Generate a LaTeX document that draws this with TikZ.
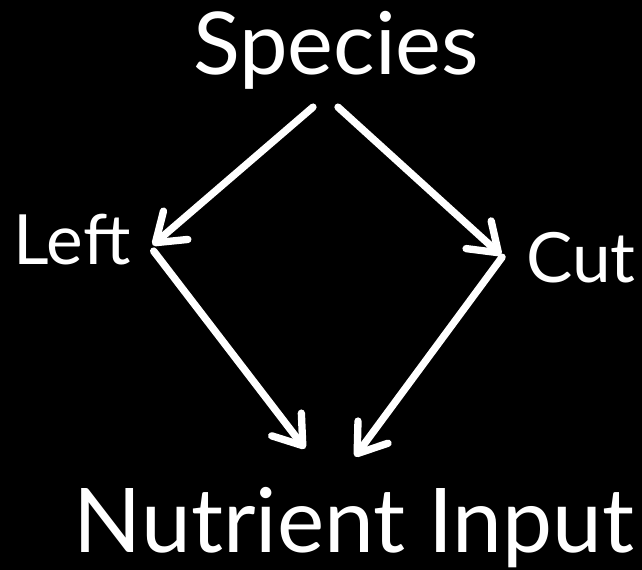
\documentclass[tikz,border=0pt]{standalone}
\usepackage{fontspec}
\setmainfont{Lato}
\usetikzlibrary{arrows.meta, calc}
\tikzset{
  bigterm/.style={text=white, inner sep=0pt, anchor=base, font=\fontsize{65}{78}\selectfont},
  smallterm/.style={text=white, inner sep=0pt, anchor=base, font=\fontsize{52}{62}\selectfont},
  arrow/.style={-{Straight Barb[length=20pt, width=28pt, round]}, white, line width=5.5pt, line cap=round},
}
\begin{document}
\begin{tikzpicture}[x=0.75pt, y=-0.75pt]

  \fill[black] (0,0) rectangle (642,570);

  \node[bigterm] (species) at (336,75) {Species};
  \node[smallterm] (left) at (72,265) {Left};
  \node[smallterm] (cut) at (581,282) {Cut};
  \node[bigterm, font=\fontsize{67}{80}\selectfont] (nutrient) at (354,552) {Nutrient Input};

  \draw[arrow] ([shift={(-23,17)}]species.south) -- ([shift={(22,5)}]left.east);
  \draw[arrow] ([shift={(2,17)}]species.south) -- ([shift={(-25,-2)}]cut.west);
  \draw[arrow] ([shift={(23,11)}]left.east) -- ([shift={(-49,-38)}]nutrient.north);
  \draw[arrow] ([shift={(-24,0)}]cut.west) -- ([shift={(1,-30)}]nutrient.north);

\end{tikzpicture}
\end{document}
